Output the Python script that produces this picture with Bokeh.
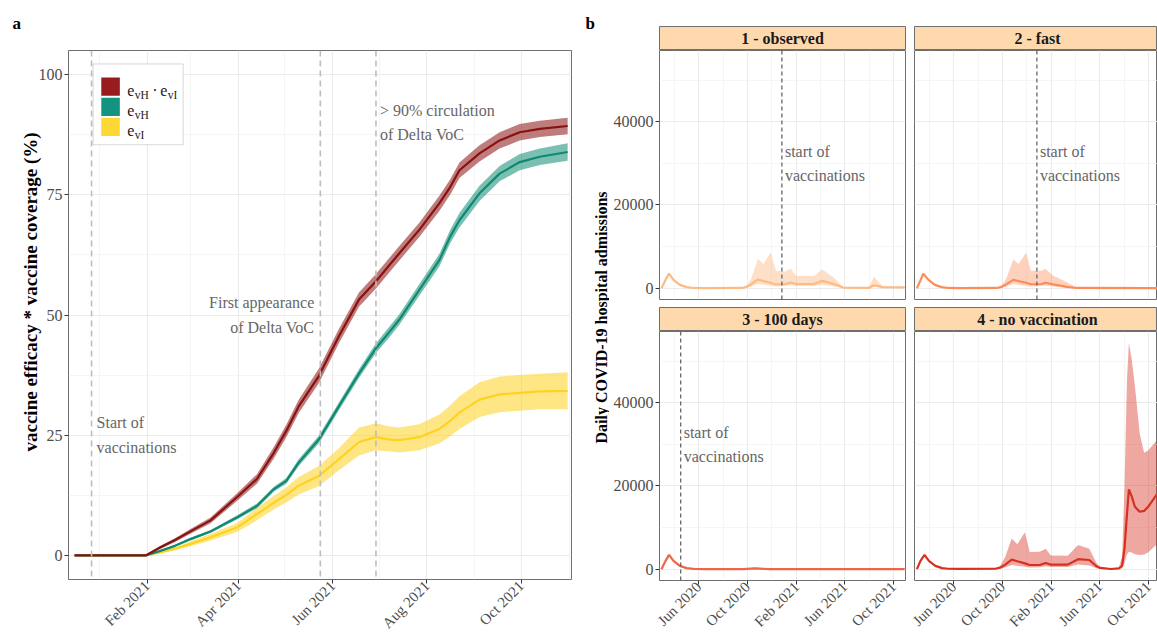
import math
import pandas as pd
from bokeh.plotting import figure
from bokeh.layouts import row, column
from bokeh.models import Range1d, FixedTicker, DatetimeTickFormatter, Span, Label, BoxAnnotation, Title
from bokeh.core.properties import value
from bokeh.embed import file_html
from bokeh.resources import INLINE

SERIF = "Liberation Serif"

# ---------------- panel a : vaccine efficacy * coverage ----------------
cov_dates = ["2020-12-16", "2021-01-31", "2021-02-09", "2021-02-19", "2021-03-01", "2021-03-14",
             "2021-03-31", "2021-04-13", "2021-04-24", "2021-05-02", "2021-05-10", "2021-05-23",
             "2021-06-05", "2021-06-18", "2021-06-29", "2021-07-08", "2021-07-14", "2021-07-27",
             "2021-08-09", "2021-08-16", "2021-08-22", "2021-09-04", "2021-09-17", "2021-09-30",
             "2021-10-13", "2021-10-31"]
hi_mid = [0, 0, 1.6, 3.2, 5.0, 7.3, 12.1, 15.9, 21.4, 25.9, 31.0, 37.3, 45.6, 53.2, 57.0, 60.5,
          62.8, 67.7, 73.2, 76.6, 80.1, 83.6, 86.3, 88.0, 88.7, 89.3]
hi_lo = [0, 0, 1.3, 2.8, 4.5, 6.7, 11.3, 14.9, 20.2, 24.6, 29.6, 35.8, 44.1, 51.7, 55.5, 59.0,
         61.3, 66.2, 71.6, 75.0, 78.5, 81.9, 84.6, 86.3, 87.0, 87.6]
hi_up = [0, 0, 1.9, 3.6, 5.5, 7.9, 12.9, 16.9, 22.6, 27.2, 32.4, 38.8, 47.1, 54.7, 58.5, 62.0,
         64.3, 69.2, 74.8, 78.2, 81.7, 85.3, 88.0, 89.7, 90.4, 91.0]
h_mid = [0, 0, 0.9, 2.0, 3.4, 5.0, 7.9, 10.3, 13.8, 15.5, 19.3, 24.1, 31.0, 37.8, 43.1, 46.6,
         49.0, 55.2, 61.4, 66.3, 69.7, 75.3, 79.4, 81.8, 82.9, 83.9]
h_lo = [0, 0, 0.8, 1.8, 3.1, 4.7, 7.5, 9.8, 13.3, 14.9, 18.6, 23.3, 30.2, 36.9, 42.1, 45.5,
        47.9, 54.0, 60.1, 64.9, 68.2, 73.7, 77.8, 80.1, 81.2, 82.1]
h_up = [0, 0, 1.0, 2.2, 3.7, 5.3, 8.3, 10.8, 14.3, 16.1, 20.0, 24.9, 31.8, 38.7, 44.1, 47.7,
        50.1, 56.4, 62.7, 67.7, 71.2, 76.9, 81.0, 83.5, 84.6, 85.7]
i_mid = [0, 0, 0.6, 1.4, 2.4, 3.8, 5.8, 8.6, 11.0, 12.6, 14.5, 16.5, 20.0, 23.6, 24.6, 24.1,
         24.0, 24.6, 26.3, 28.0, 29.7, 32.4, 33.5, 33.8, 34.1, 34.2]
i_lo = [0, 0, 0.5, 1.1, 1.9, 3.1, 4.9, 7.3, 9.6, 11.0, 12.7, 14.4, 17.7, 20.8, 21.9, 21.6,
        21.4, 21.9, 23.3, 24.8, 26.3, 28.8, 29.8, 30.1, 30.4, 30.4]
i_up = [0, 0, 0.7, 1.7, 2.9, 4.5, 6.7, 9.9, 12.4, 14.2, 16.3, 18.6, 22.3, 26.6, 27.5, 26.8,
        26.6, 27.3, 29.3, 31.2, 33.1, 36.0, 37.2, 37.5, 37.8, 38.1]

events_a = ["2020-12-27", "2021-05-24", "2021-06-29"]
event_text_a = ["Start of\nvaccinations", "First appearance\nof Delta VoC", "> 90% circulation\nof Delta VoC"]

a_xticks = ["2021-02-01", "2021-04-01", "2021-06-01", "2021-08-01", "2021-10-01"]
a_xminor = ["2021-01-01", "2021-03-01", "2021-05-01", "2021-07-01", "2021-09-01", "2021-11-01"]
a_yticks = [0, 25, 50, 75, 100]
a_yminor = [12.5, 37.5, 62.5, 87.5]

# ---------------- panel b : daily hospital admissions ----------------
obs_dates = ["2020-02-29", "2020-03-10", "2020-03-19", "2020-03-30", "2020-04-15", "2020-05-02",
             "2020-05-19", "2020-06-15", "2020-09-17", "2020-09-28", "2020-10-10", "2020-10-27",
             "2020-11-10", "2020-11-28", "2020-12-11", "2021-01-03", "2021-01-17", "2021-01-30",
             "2021-03-16", "2021-04-06", "2021-05-05", "2021-05-28", "2021-07-31", "2021-08-13",
             "2021-09-04", "2021-10-29"]
obs_mid = [0, 2000, 3500, 2000, 800, 250, 50, 0, 50, 300, 900, 2100, 1700, 1300, 900, 1000,
           1350, 1000, 1000, 1750, 1000, 150, 50, 700, 250, 200]
obs_lo = [0, 2000, 3500, 2000, 800, 250, 50, 0, 0, 100, 400, 1000, 800, 600, 400, 500,
          700, 500, 500, 900, 400, 50, 0, 300, 100, 100]
obs_up = [0, 2000, 3500, 2000, 800, 250, 50, 0, 100, 600, 2200, 7000, 5800, 8600, 4200, 4000,
          4700, 3000, 2900, 4500, 2500, 300, 100, 2800, 400, 300]

fast_dates = ["2020-03-01", "2020-03-10", "2020-03-17", "2020-03-30", "2020-04-15", "2020-05-02",
              "2020-05-19", "2020-06-15", "2020-09-17", "2020-09-28", "2020-10-10", "2020-10-28",
              "2020-11-10", "2020-11-29", "2020-12-11", "2021-01-07", "2021-01-16", "2021-02-05",
              "2021-03-11", "2021-04-05", "2021-10-31"]
fast_mid = [0, 1900, 3460, 2000, 800, 250, 50, 0, 50, 300, 900, 2000, 1700, 1300, 950, 1000,
            1300, 900, 300, 50, 0]
fast_lo = [0, 1900, 3460, 2000, 800, 250, 50, 0, 0, 100, 400, 1000, 800, 600, 400, 500,
           650, 400, 100, 0, 0]
fast_up = [0, 1900, 3460, 2000, 800, 250, 50, 0, 100, 600, 2200, 6900, 5800, 8500, 4200, 4200,
           4650, 3000, 1450, 100, 0]

d100_dates = ["2020-02-29", "2020-03-10", "2020-03-19", "2020-03-30", "2020-04-15", "2020-05-02",
              "2020-05-19", "2020-06-15", "2020-09-20", "2020-10-19", "2020-11-25", "2021-10-29"]
d100_mid = [0, 2000, 3430, 2000, 800, 250, 60, 0, 0, 200, 0, 0]
d100_lo = [0, 2000, 3430, 2000, 800, 250, 60, 0, 0, 100, 0, 0]
d100_up = [0, 2000, 3430, 2000, 800, 250, 60, 0, 0, 400, 0, 0]

novax_dates = ["2020-03-01", "2020-03-10", "2020-03-20", "2020-03-31", "2020-04-16", "2020-05-03",
               "2020-05-18", "2020-06-15", "2020-09-13", "2020-09-26", "2020-10-08", "2020-10-24",
               "2020-11-07", "2020-11-26", "2020-12-08", "2021-01-02", "2021-01-17", "2021-01-30",
               "2021-03-13", "2021-04-08", "2021-05-06", "2021-05-24", "2021-06-02", "2021-06-29",
               "2021-07-19", "2021-07-27", "2021-08-02", "2021-08-08", "2021-08-13", "2021-08-20",
               "2021-08-28", "2021-09-09", "2021-09-20", "2021-09-30", "2021-10-22"]
novax_mid = [0, 2000, 3430, 2000, 800, 250, 100, 50, 100, 400, 1100, 2300, 1900, 1400, 1000, 1000,
             1500, 1100, 1100, 2400, 2200, 700, 300, 50, 200, 800, 5000, 13000, 19200, 17500,
             15000, 13800, 14000, 15000, 18000]
novax_lo = [0, 2000, 3430, 2000, 800, 250, 100, 50, 0, 100, 400, 1000, 800, 600, 400, 450,
            700, 500, 500, 1100, 900, 200, 100, 0, 50, 200, 1500, 3500, 4200, 4000,
            3600, 3400, 3500, 4000, 6000]
novax_up = [0, 2000, 3430, 2000, 800, 250, 100, 50, 200, 900, 3000, 7400, 6000, 8900, 4100, 4200,
            4900, 3300, 3200, 5800, 4900, 1500, 500, 100, 400, 3000, 20000, 45000, 54400, 50500,
            44000, 32600, 28000, 28500, 31000]

scenarios = ["1 - observed", "2 - fast", "3 - 100 days", "4 - no vaccination"]
vacc_start = ["2020-12-26", "2020-12-26", "2020-04-17", None]

b_xticks = ["2020-06-01", "2020-10-01", "2021-02-01", "2021-06-01", "2021-10-01"]
b_xminor = ["2020-04-01", "2020-08-01", "2020-12-01", "2021-04-01", "2021-08-01"]
b_yticks = [0, 20000, 40000]
b_yminor = [10000, 30000, 50000]


def ms(d):
    return pd.Timestamp(d).value / 1e6


def style(p, xt, xm, yt, ym, xsize, ysize):
    p.background_fill_color = "white"
    p.border_fill_color = "white"
    p.outline_line_color = "#6E6E6E"
    p.outline_line_width = 1
    p.xgrid.ticker = FixedTicker(ticks=[ms(d) for d in xt], minor_ticks=[ms(d) for d in xm])
    p.ygrid.ticker = FixedTicker(ticks=yt, minor_ticks=ym)
    p.grid.grid_line_color = "#EBEBEB"
    p.grid.grid_line_width = 1.1
    p.grid.minor_grid_line_color = "#F1F1F1"
    p.grid.minor_grid_line_width = 0.7
    p.xaxis.ticker = FixedTicker(ticks=[ms(d) for d in xt])
    p.yaxis.ticker = FixedTicker(ticks=yt)
    p.xaxis.formatter = DatetimeTickFormatter(days="%b %Y", months="%b %Y", years="%b %Y")
    p.xaxis.major_label_orientation = math.pi / 4
    p.axis.axis_line_color = None
    p.axis.major_tick_line_color = "#333333"
    p.axis.major_tick_in = 0
    p.axis.major_tick_out = 4
    p.axis.minor_tick_line_color = None
    p.axis.major_label_text_font = SERIF
    p.axis.major_label_text_color = "#4D4D4D"
    p.xaxis.major_label_standoff = 0
    p.yaxis.major_label_standoff = 2
    p.xaxis.major_label_text_font_size = xsize
    p.yaxis.major_label_text_font_size = ysize


def blank(w, h):
    f = figure(width=w, height=h, x_range=Range1d(0, w), y_range=Range1d(0, h),
               toolbar_location=None, output_backend="svg",
               min_border_left=0, min_border_right=0, min_border_top=0, min_border_bottom=0)
    f.axis.visible = False
    f.grid.visible = False
    f.outline_line_color = None
    return f


# ---------------- panel a ----------------
afig = blank(584, 44)
afig.text(x=[12], y=[21], text=["a"], text_baseline="alphabetic", text_font=value(SERIF),
          text_font_style="bold", text_font_size="17px", text_color="black")

pa = figure(width=584, height=595, x_axis_type="datetime",
            x_range=Range1d(ms("2020-12-12 02:00"), ms("2021-11-02 12:00")),
            y_range=Range1d(-5, 105), toolbar_location=None, output_backend="svg",
            min_border_left=68, min_border_right=13, min_border_top=6, min_border_bottom=58)
style(pa, a_xticks, a_xminor, a_yticks, a_yminor, "15px", "16px")
pa.add_layout(Title(text="vaccine efficacy * vaccine coverage (%)", align="left", offset=128,
                    standoff=-10, text_font=SERIF, text_font_style="bold",
                    text_font_size="19px", text_color="black"), "left")

xd = pd.to_datetime(cov_dates)
for lo, up, mid, col in [(i_lo, i_up, i_mid, "#FFD21F"), (h_lo, h_up, h_mid, "#0E8A72"),
                         (hi_lo, hi_up, hi_mid, "#8B1010")]:
    pa.varea(x=xd, y1=lo, y2=up, fill_color=col, fill_alpha=0.55)
    pa.line(x=xd, y=mid, line_color=col, line_width=2.2)

for d in events_a:
    pa.add_layout(Span(location=ms(d), dimension="height", line_color="#BDBDBD",
                       line_width=1.6, line_dash="6 4"))

for d, txt, align, dx, yv in zip(events_a, event_text_a, ["left", "right", "left"], [5, -6, 4], [25, 50, 90]):
    pa.add_layout(Label(x=ms(d), y=yv, x_offset=dx, text=txt, text_align=align,
                        text_baseline="middle", text_font=SERIF, text_font_size="16px",
                        text_color="#666666", text_line_height=1.45))

# legend drawn by hand so that subscripts can be shown
pa.add_layout(BoxAnnotation(left=ms("2020-12-28"), right=ms("2021-02-24 06:00"), top=102.2, bottom=85.4,
                            fill_color="white", fill_alpha=1, line_color="#7F7F7F", line_width=1))
key_cols = ["#981B1E", "#139480", "#FDD835"]
key_tops = [99.4, 95.2, 91.0]
for col, top in zip(key_cols, key_tops):
    pa.add_layout(BoxAnnotation(left=ms("2021-01-02 07:00"), right=ms("2021-01-14 07:00"),
                                top=top, bottom=top - 3.8, fill_color=col, fill_alpha=1,
                                line_color=None))
key_parts = [[("e", 0, 16), ("vH", 7.5, 11.5), ("\u00b7", 25, 16), ("e", 33, 16), ("vI", 40.5, 11.5)],
             [("e", 0, 16), ("vH", 7.5, 11.5)],
             [("e", 0, 16), ("vI", 7.5, 11.5)]]
for parts, top in zip(key_parts, key_tops):
    for txt, dx, fs in parts:
        pa.add_layout(Label(x=ms("2021-01-19 02:00"), y=top - 1.9, x_offset=dx,
                            y_offset=-4 if fs > 12 else -8, text=txt, text_align="left",
                            text_baseline="alphabetic", text_font=SERIF,
                            text_font_size="%gpx" % fs, text_color="#1A1A1A"))

# ---------------- label column for panel b ----------------
lab = blank(25, 639)
lab.text(x=[17], y=[322], text=["Daily COVID-19 hospital admissions"], angle=math.pi / 2,
         text_align="center", text_baseline="middle", text_font=value(SERIF),
         text_font_style="bold", text_font_size="16px", text_color="black")
lab.text(x=[1], y=[616], text=["b"], text_baseline="alphabetic", text_font=value(SERIF),
         text_font_style="bold", text_font_size="17px", text_color="black")

# ---------------- panel b facets ----------------
b_start = pd.Timestamp("2020-02-24")
b_end = pd.Timestamp("2021-10-31")
FW_L, FW_R = 246, 243
b_end_r = b_start + (b_end - b_start) * FW_R / FW_L
yr_b = (-2720, 57120)

series = [(obs_dates, obs_mid, obs_lo, obs_up, "#FDBB84", 0.45),
          (fast_dates, fast_mid, fast_lo, fast_up, "#FC8D59", 0.4),
          (d100_dates, d100_mid, d100_lo, d100_up, "#EF6548", 0.4),
          (novax_dates, novax_mid, novax_lo, novax_up, "#D7301F", 0.42)]


def strip(k):
    left = k in (0, 2)
    top = k in (0, 1)
    s = figure(width=298 if left else 250, height=50 if top else 24,
               x_range=Range1d(0, 1 if left else FW_R / FW_L), y_range=Range1d(0, 1),
               toolbar_location=None, output_backend="svg",
               min_border_left=50 if left else 7, min_border_right=2 if left else 0,
               min_border_top=26 if top else 0, min_border_bottom=0)
    s.axis.visible = False
    s.grid.visible = False
    s.background_fill_color = "#FED9AE"
    s.border_fill_color = "white"
    s.outline_line_color = "#6E6E6E"
    s.text(x=[0.5], y=[0.5], text=[scenarios[k]], text_align="center", text_baseline="middle",
           text_font=value(SERIF), text_font_style="bold", text_font_size="16px",
           text_color="#1A1A1A")
    return s


def panel(k):
    left = k in (0, 2)
    bottom = k in (2, 3)
    p = figure(width=298 if left else 250, height=308 if bottom else 257, x_axis_type="datetime",
               x_range=Range1d(ms(b_start), ms(b_end if left else b_end_r)),
               y_range=Range1d(*yr_b), toolbar_location=None, output_backend="svg",
               min_border_left=50 if left else 7, min_border_right=2 if left else 0,
               min_border_top=0, min_border_bottom=59 if bottom else 8)
    style(p, b_xticks, b_xminor, b_yticks, b_yminor, "15px", "16px")
    if not left:
        p.yaxis.visible = False
    if not bottom:
        p.xaxis.visible = False
    dates, mid, lo, up, col, alpha = series[k]
    xd = pd.to_datetime(dates)
    p.varea(x=xd, y1=lo, y2=up, fill_color=col, fill_alpha=alpha)
    p.line(x=xd, y=mid, line_color=col, line_width=2.2)
    if vacc_start[k]:
        p.add_layout(Span(location=ms(vacc_start[k]), dimension="height", line_color="#5A5A5A",
                          line_width=1.2, line_dash="4 3"))
        p.add_layout(Label(x=ms(vacc_start[k]), y=30000, x_offset=3, text="start of\nvaccinations",
                           text_align="left", text_baseline="middle", text_font=SERIF,
                           text_font_size="16px", text_color="#666666", text_line_height=1.45))
    return p


panels = [panel(k) for k in range(4)]
strips = [strip(k) for k in range(4)]

facets = column(row(strips[0], strips[1]), row(panels[0], panels[1]),
                row(strips[2], strips[3]), row(panels[2], panels[3]))

layout = row(column(row(afig), pa), row(lab, facets))
open("out.html", "w").write(file_html(layout, INLINE))
